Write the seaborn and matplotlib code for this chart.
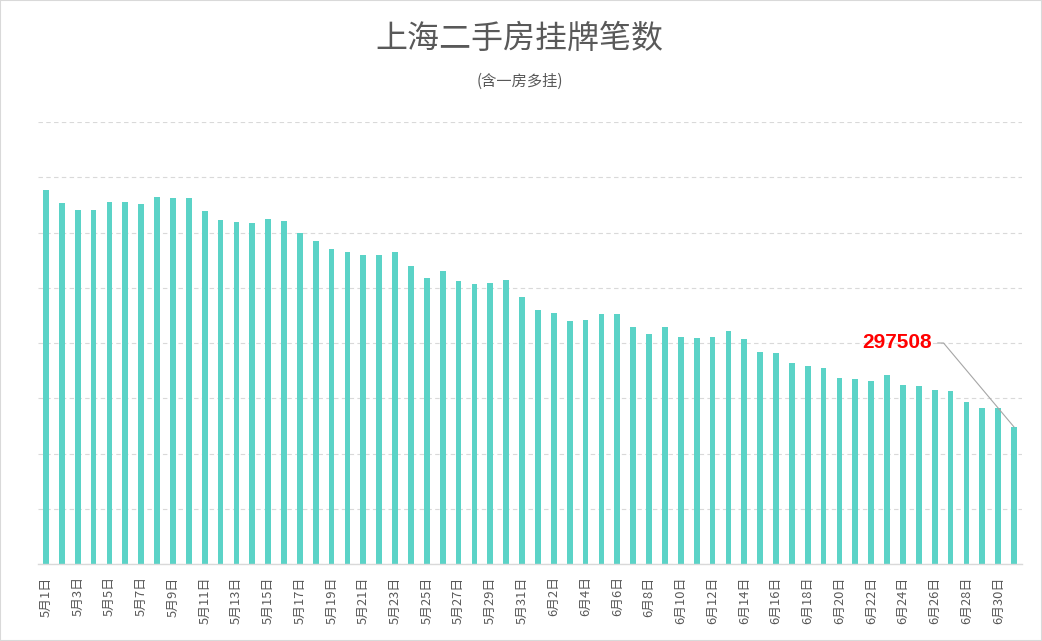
import numpy as np
import pandas as pd
import seaborn as sns
import matplotlib.pyplot as plt
from matplotlib.patches import Rectangle

# Categories: one bar per day, 5月1日 .. 7月1日
may_days = [f"5月{d}日" for d in range(1, 32)]
jun_days = [f"6月{d}日" for d in range(1, 31)]
jul_days = ["7月1日"]
dates = may_days + jun_days + jul_days

# Daily listing counts (last one is the labelled value)
listings = [
    812300, 784100, 768900, 769300, 786300, 786000, 781900, 797100, 795000, 794800,
    766700, 747200, 742800, 740700, 749300, 745000, 718900, 701600, 684200, 677700,
    671100, 670900, 677700, 647300, 621200, 636400, 614700, 608200, 610300, 616800,
    579900, 551700, 545200, 527800, 530000, 543000, 542800, 514800, 499600, 514700,
    493000, 490900, 493100, 506100, 488700, 460500, 458300, 436600, 430100, 425700,
    404000, 401800, 397500, 410500, 388800, 386600, 377900, 375800, 351900, 338800,
    338900, 297508,
]

title = "上海二手房挂牌笔数"
subtitle = "(含一房多挂)"

BAR_COLOR = "#5bd3c7"
TEXT_COLOR = "#595959"
LINE_COLOR = "#d9d9d9"

sns.set_style("white")
plt.rcParams['font.family'] = ['Noto Sans CJK SC', 'DejaVu Sans']

df = pd.DataFrame({"date": dates, "count": listings})

fig = plt.figure(figsize=(10.42, 6.41), dpi=100)
ax = fig.add_axes([38 / 1042, 1 - 564 / 641, (1022 - 38) / 1042, (564 - 122) / 641])

# Bars
sns.barplot(data=df, x="date", y="count", color=BAR_COLOR, saturation=1, width=0.36,
            linewidth=0, ax=ax)
ax.set_xlim(-0.5, len(dates) - 0.5)
ax.set_ylim(0, 960000)

# Hidden value axis, dashed grid only
ax.set_yticks(np.arange(0, 960001, 120000))
ax.set_yticklabels([])
ax.tick_params(axis='y', length=0)
ax.yaxis.grid(True, color=LINE_COLOR, linestyle=(0, (4, 3)), linewidth=0.8)
ax.set_axisbelow(True)
for s in ['top', 'right', 'left']:
    ax.spines[s].set_visible(False)
ax.spines['bottom'].set_color(LINE_COLOR)
ax.spines['bottom'].set_linewidth(1)
ax.set_xlabel('')
ax.set_ylabel('')

# Date labels every other day, tick marks between category pairs
ax.set_xticks(range(0, len(dates), 2))
ax.set_xticklabels(dates[::2], rotation=90, fontsize=9.3, color=TEXT_COLOR)
ax.tick_params(axis='x', which='major', length=0, pad=9)
ax.set_xticks(np.arange(-0.5, len(dates), 2), minor=True)
ax.tick_params(axis='x', which='minor', length=4, color=LINE_COLOR, width=1)

# Label for the last day, with a bent leader line
ax.annotate(
    f"{listings[-1]}",
    xy=(len(dates) - 1, listings[-1]),
    xytext=(55.8, 480000),
    ha='right', va='center',
    color='#ff0000', fontsize=15, fontweight='bold', family='Liberation Sans',
    arrowprops=dict(arrowstyle='-', color='#a6a6a6', lw=0.8, relpos=(1, 0.5),
                    shrinkA=2, shrinkB=0,
                    connectionstyle="angle,angleA=0,angleB=130,rad=0"),
)

# Titles
fig.text(519 / 1042, 1 - 39 / 641, title, ha='center', va='center', fontsize=23,
         fontweight='light', color=TEXT_COLOR)
fig.text(520 / 1042, 1 - 81 / 641, subtitle, ha='center', va='center', fontsize=11,
         color=TEXT_COLOR)

# Light frame round the picture
fig.patches.append(Rectangle((0, 0), 1, 1, transform=fig.transFigure, fill=False,
                             edgecolor=LINE_COLOR, lw=1.5))

fig.savefig("out.png", dpi=100)
